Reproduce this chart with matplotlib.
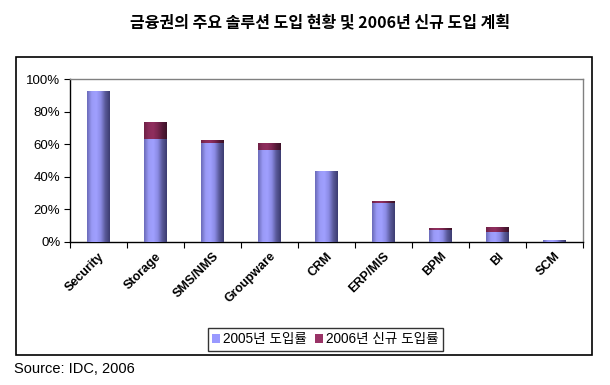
import matplotlib
matplotlib.use("Agg")
import matplotlib.pyplot as plt
import numpy as np
from matplotlib.patches import Rectangle
from matplotlib.colors import LinearSegmentedColormap
from matplotlib.ticker import FuncFormatter, FixedLocator

plt.rcParams['font.family'] = ['Liberation Sans', 'Noto Sans CJK KR', 'DejaVu Sans']

title = "금융권의 주요 솔루션 도입 현황 및 2006년 신규 도입 계획"
categories = ["Security", "Storage", "SMS/NMS", "Groupware", "CRM", "ERP/MIS", "BPM", "BI", "SCM"]
adopt_2005 = [92.5, 63, 61, 56.5, 43.5, 24, 7.3, 6, 1]
new_2006 = [0, 10.5, 1.7, 4, 0, 1, 1.2, 3, 0]
series_names = ["2005년 도입률", "2006년 신규 도입률"]
source = "Source: IDC, 2006"

fig = plt.figure(figsize=(6.10, 3.85), dpi=100)
W, H = 610, 385
ax = fig.add_axes([70 / W, 1 - 242 / H, 513 / W, 163 / H])

x = np.arange(len(categories))
bw = 0.4
blue = "#9999FF"
maroon = "#993366"
b1 = ax.bar(x, adopt_2005, width=bw, color=blue, label=series_names[0], zorder=2)
b2 = ax.bar(x, new_2006, width=bw, bottom=adopt_2005, color=maroon, label=series_names[1], zorder=2)

# cylinder-like gradient shading
def shade(bars, cols):
    cmap = LinearSegmentedColormap.from_list("g", cols)
    grad = np.linspace(0, 1, 64).reshape(1, -1)
    for p in bars:
        h = p.get_height()
        if h <= 0:
            continue
        x0, y0 = p.get_x(), p.get_y()
        im = ax.imshow(grad, cmap=cmap, aspect='auto', extent=(x0, x0 + p.get_width(), y0, y0 + h),
                       zorder=3, interpolation='bicubic')
        im.set_clip_path(p)

shade(b1, ["#6a6ab8", "#9a9af6", "#a0a0ff", "#8c8ce6", "#5a5a9a", "#3c3c70"])
shade(b2, ["#6e2046", "#8a2c5a", "#902e5e", "#7a2650", "#561a38", "#3c1228"])

ax.set_xlim(-0.5, len(categories) - 0.5)
ax.set_ylim(0, 100)
ax.yaxis.set_major_locator(FixedLocator([0, 20, 40, 60, 80, 100]))
ax.yaxis.set_major_formatter(FuncFormatter(lambda v, p: f"{int(v)}%"))
ax.tick_params(axis='y', direction='out', length=4, width=0.8, labelsize=9.5, pad=3)

ax.set_xticks(np.arange(len(categories) + 1) - 0.5)
ax.set_xticklabels([])
ax.tick_params(axis='x', direction='out', length=4, width=0.8)
ax.set_xticks(x, minor=True)
ax.set_xticklabels(categories, minor=True, rotation=45, ha='right', va='top',
                   rotation_mode='anchor', fontsize=9, fontweight='bold')
ax.tick_params(axis='x', which='minor', length=0, pad=6)

for s in ['top', 'right']:
    ax.spines[s].set_color('#808080')
    ax.spines[s].set_linewidth(1)
for s in ['left', 'bottom']:
    ax.spines[s].set_color('black')
    ax.spines[s].set_linewidth(1)

# outer chart frame
fig.patches.append(Rectangle((16 / W, 1 - 355 / H), 576 / W, 298 / H, transform=fig.transFigure,
                             fill=False, edgecolor='black', linewidth=1.2))

fig.text(320 / W, 1 - 22 / H, title, ha='center', va='center', fontsize=11.5, fontweight='bold',
         family=['Noto Sans CJK KR', 'DejaVu Sans'])

leg = fig.legend(handles=[b1, b2], labels=series_names, loc='center',
                 bbox_to_anchor=(325.5 / W, 1 - 339.5 / H), ncol=2,
                 frameon=True, fancybox=False, shadow=False, handlelength=0.6, handleheight=0.6,
                 handletextpad=0.2, columnspacing=0.6, borderpad=0.35,
                 prop={'family': ['Liberation Sans', 'Noto Sans CJK KR'], 'size': 9.8})
leg.get_frame().set_edgecolor('black')
leg.get_frame().set_linewidth(1)

fig.text(14 / W, 1 - 369 / H, source, ha='left', va='center', fontsize=10.5)

fig.savefig("out.png", dpi=100)
